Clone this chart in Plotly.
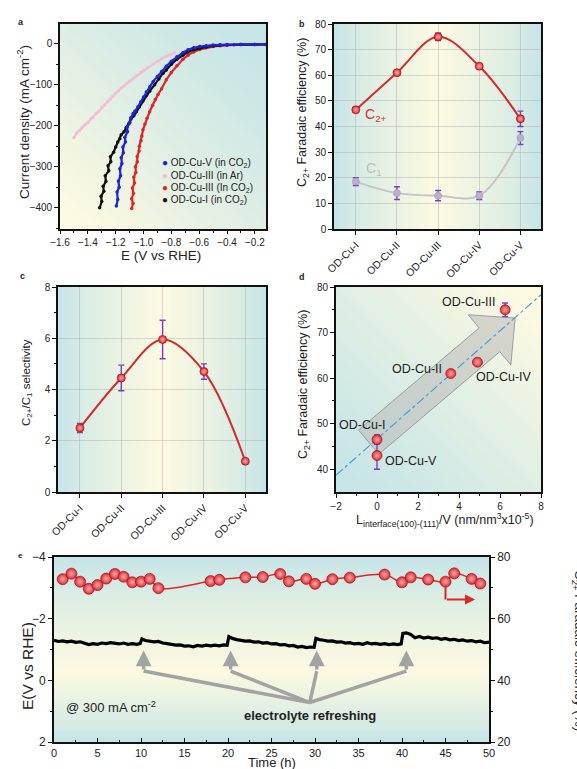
import base64, struct, zlib
import plotly.graph_objects as go

W, H = 577, 769
FONT = "Liberation Sans, Arial, sans-serif"

# ---------------- data ----------------
# panel a : LSV curves (E vs RHE, current density mA cm-2)
a_blue_E = [-1.195, -1.185, -1.19, -1.175, -1.18, -1.165, -1.17, -1.155, -1.16, -1.145, -1.148, -1.13, -1.134, -1.115,
            -1.118, -1.098, -1.09, -1.075, -1.062, -1.04, -1.02, -1.0, -0.98, -0.955, -0.93, -0.9, -0.87, -0.836, -0.8,
            -0.76, -0.717, -0.68, -0.64, -0.597, -0.55, -0.5, -0.45, -0.4, -0.3, -0.2, -0.12]
a_blue_j = [-396, -380, -362, -350, -335, -322, -305, -292, -278, -266, -252, -240, -228, -215, -204, -192, -180, -170,
            -165, -154, -142, -130, -118, -105, -92, -80, -68, -55, -43, -32, -22, -15, -10, -7, -5, -3.5, -2.8, -2.3,
            -2, -1.8, -1.8]
a_pink_E = [-1.50, -1.48, -1.46, -1.44, -1.42, -1.40, -1.38, -1.363, -1.34, -1.32, -1.30, -1.28, -1.26, -1.24, -1.22,
            -1.2, -1.18, -1.16, -1.14, -1.12, -1.1, -1.076, -1.05, -1.02, -1.0, -0.97, -0.932, -0.9, -0.87, -0.84,
            -0.813, -0.78]
a_pink_j = [-229, -218, -212, -204, -198, -192, -184, -180, -170, -164, -156, -150, -142, -136, -128, -121, -115, -108,
            -103, -97, -92, -86, -78, -70, -65, -58, -50, -43, -36, -31, -27, -22]
a_red_E = [-1.085, -1.075, -1.085, -1.072, -1.08, -1.065, -1.07, -1.055, -1.058, -1.045, -1.045, -1.032, -1.03, -1.018,
           -1.012, -1.004, -0.99, -0.975, -0.956, -0.935, -0.915, -0.896, -0.87, -0.836, -0.8, -0.76, -0.717, -0.68,
           -0.64, -0.597, -0.55, -0.5, -0.45, -0.4, -0.35, -0.3, -0.2, -0.12]
a_red_j = [-402, -390, -378, -365, -352, -340, -326, -314, -300, -288, -275, -262, -250, -237, -225, -210, -196, -182,
           -166, -150, -136, -124, -110, -88, -70, -54, -38, -28, -20, -14, -10, -7, -5, -3.5, -2.8, -2.3, -2, -2]
a_black_E = [-1.315, -1.3, -1.305, -1.285, -1.29, -1.27, -1.275, -1.25, -1.255, -1.235, -1.238, -1.215, -1.2, -1.185,
             -1.17, -1.16, -1.14, -1.125, -1.105, -1.09, -1.07, -1.052, -1.03, -1.005, -0.98, -0.956, -0.92, -0.89,
             -0.86, -0.836, -0.8, -0.76, -0.717, -0.68, -0.64, -0.597, -0.55, -0.5, -0.45, -0.4, -0.3, -0.2, -0.12]
a_black_j = [-400, -385, -372, -360, -348, -336, -322, -310, -298, -288, -276, -265, -252, -240, -232, -222, -215, -205,
             -195, -184, -176, -166, -154, -140, -126, -116, -100, -86, -72, -64, -50, -38, -28, -20, -15, -11, -8,
             -5.5, -4, -3, -2.3, -2, -2]

# panels b, c, d : catalysts
catalysts = ["OD-Cu-I", "OD-Cu-II", "OD-Cu-III", "OD-Cu-IV", "OD-Cu-V"]
fe_c2 = [46.5, 61.0, 75.0, 63.5, 43.0]
fe_c2_err = [1.0, 0.6, 1.5, 0.6, 3.0]
fe_c1 = [18.5, 14.0, 13.0, 13.0, 35.5]
fe_c1_err = [1.5, 2.5, 2.0, 1.5, 2.5]
selectivity = [2.5, 4.45, 5.95, 4.7, 1.2]
selectivity_err = [0.18, 0.5, 0.75, 0.3, 0.05]
interface_density = [0.0, 3.6, 6.25, 4.9, 0.0]
fit_x = [-2, 8]
fit_y = [38.7, 78.3]

# panel e : stability
time_fe = [1, 2, 3, 4, 5, 6, 7, 8, 9, 10, 11, 12, 18, 19, 22, 24, 26, 27, 29, 30, 32, 34, 38, 40, 41, 43, 45, 46,
           48, 49]
fe_time = [72.8, 74.6, 72.0, 69.7, 70.9, 73.0, 74.5, 73.6, 71.8, 72.0, 72.9, 69.9, 72.2, 72.6, 73.4, 73.5, 74.5,
           72.1, 72.9, 71.3, 72.8, 73.3, 74.3, 71.8, 73.4, 72.7, 72.0, 74.7, 72.9, 71.4]
time_v = [0, 0.5, 1, 1.5, 2, 2.5, 3, 3.5, 4, 4.5, 5, 5.5, 6, 6.5, 7, 7.5, 8, 8.5, 9, 9.5, 9.9, 10.1, 10.5, 11, 11.5,
          12, 12.5, 13, 13.5, 14, 14.5, 15, 15.5, 16, 16.5, 17, 17.5, 18, 18.5, 19, 19.5, 19.9, 20.1, 20.5, 21, 21.5,
          22, 22.5, 23, 23.5, 24, 24.5, 25, 25.5, 26, 26.5, 27, 27.5, 28, 28.5, 29, 29.5, 29.9, 30.1, 30.5, 31, 31.5,
          32, 32.5, 33, 33.5, 34, 34.5, 35, 35.5, 36, 36.5, 37, 37.5, 38, 38.5, 39, 39.5, 39.9, 40.1, 40.5, 41, 41.5,
          42, 42.5, 43, 43.5, 44, 44.5, 45, 45.5, 46, 46.5, 47, 47.5, 48, 48.5, 49, 49.5, 50]
potential = [-1.30, -1.26, -1.28, -1.25, -1.27, -1.23, -1.25, -1.20, -1.16, -1.19, -1.17, -1.21, -1.19, -1.22, -1.20,
             -1.18, -1.21, -1.17, -1.19, -1.17, -1.19, -1.34, -1.29, -1.27, -1.25, -1.26, -1.21, -1.19, -1.16, -1.14,
             -1.15, -1.11, -1.12, -1.09, -1.13, -1.11, -1.14, -1.12, -1.14, -1.12, -1.15, -1.14, -1.42, -1.36, -1.32,
             -1.29, -1.27, -1.28, -1.24, -1.25, -1.21, -1.22, -1.18, -1.19, -1.15, -1.16, -1.12, -1.13, -1.08, -1.10,
             -1.06, -1.08, -1.07, -1.36, -1.32, -1.30, -1.27, -1.28, -1.24, -1.25, -1.21, -1.22, -1.18, -1.20, -1.17,
             -1.22, -1.18, -1.20, -1.17, -1.19, -1.16, -1.18, -1.16, -1.18, -1.52, -1.54, -1.49, -1.38, -1.42, -1.37,
             -1.40, -1.36, -1.38, -1.33, -1.36, -1.31, -1.33, -1.29, -1.31, -1.27, -1.29, -1.25, -1.27, -1.22, -1.24]
refresh_times = [10.3, 20.3, 30.2, 40.5]

# ---------------- helpers ----------------
def pxx(xp):
    return xp / W

def pxy(yp):
    return 1 - yp / H

DOM = {
    'a': ([60, 266], [24, 229]),
    'b': ([334, 541], [24, 229]),
    'c': ([58, 266], [287, 492]),
    'd': ([336, 541], [287, 492]),
    'e': ([54, 489], [557, 742]),
}

def xdom(k):
    return [pxx(DOM[k][0][0]), pxx(DOM[k][0][1])]

def ydom(k):
    return [pxy(DOM[k][1][1]), pxy(DOM[k][1][0])]

TEAL = (198, 229, 231)
YEL = (253, 250, 226)

def mix(p):
    p = max(0.0, min(1.0, p))
    return tuple(int(TEAL[i] + (YEL[i] - TEAL[i]) * p) for i in range(3))

def png_uri(fn, w=48, h=48):
    raw = bytearray()
    for j in range(h):
        raw.append(0)
        for i in range(w):
            raw.extend(bytes(fn(i / (w - 1), j / (h - 1))))
    def chunk(tag, data):
        c = struct.pack('>I', len(data)) + tag + data
        return c + struct.pack('>I', zlib.crc32(tag + data) & 0xffffffff)
    png = (b'\x89PNG\r\n\x1a\n' + chunk(b'IHDR', struct.pack('>IIBBBBB', w, h, 8, 2, 0, 0, 0))
           + chunk(b'IDAT', zlib.compress(bytes(raw))) + chunk(b'IEND', b''))
    return 'data:image/png;base64,' + base64.b64encode(png).decode()

grad = {
    'a': lambda u, v: mix((((1 - u) + v) / 2) ** 1.3 * 1.1),
    'b': lambda u, v: mix((1 - abs(2 * u - 1)) ** 0.7),
    'c': lambda u, v: mix((1 - abs(2 * u - 1)) ** 0.7),
    'd': lambda u, v: mix(((u + (1 - v)) / 2) ** 1.2 * 1.1),
    'e': lambda u, v: mix((v / 0.62 if v < 0.62 else (1 - v) / 0.38) ** 0.8),
}

RED = '#e3242b'
PURPLE = '#7a3fc0'
sphere = dict(color=RED, gradient=dict(type='radial', color='#ffb3b3'), line=dict(color='#9e1018', width=0.7))

fig = go.Figure()

# ---------------- panel a ----------------
for E, j, col in [(a_pink_E, a_pink_j, '#f2bfd3'), (a_red_E, a_red_j, '#e02525'),
                  (a_black_E, a_black_j, '#111111'), (a_blue_E, a_blue_j, '#1f22d8')]:
    fig.add_trace(go.Scatter(x=E, y=j, mode='lines+markers', line=dict(color=col, width=2.2),
                             marker=dict(color=col, size=3.5), showlegend=False, xaxis='x', yaxis='y'))

# ---------------- panel b ----------------
cat_idx = list(range(len(catalysts)))
fig.add_trace(go.Scatter(x=cat_idx, y=fe_c1, mode='lines+markers', line=dict(color='#c4c4c4', width=2, shape='spline'),
                         marker=dict(color='#b9b2cc', size=7, line=dict(color='#9d93b8', width=0.6)),
                         error_y=dict(type='data', array=fe_c1_err, color=PURPLE, thickness=1.4, width=3),
                         showlegend=False, xaxis='x2', yaxis='y2'))
fig.add_trace(go.Scatter(x=cat_idx, y=fe_c2, mode='lines+markers', line=dict(color='#d42a2a', width=2, shape='spline'),
                         marker=dict(size=8, **sphere),
                         error_y=dict(type='data', array=fe_c2_err, color=PURPLE, thickness=1.4, width=3),
                         showlegend=False, xaxis='x2', yaxis='y2'))

# ---------------- panel c ----------------
fig.add_trace(go.Scatter(x=cat_idx, y=selectivity, mode='lines+markers',
                         line=dict(color='#d42a2a', width=2, shape='spline'), marker=dict(size=8, **sphere),
                         error_y=dict(type='data', array=selectivity_err, color=PURPLE, thickness=1.4, width=3),
                         showlegend=False, xaxis='x3', yaxis='y3'))

# ---------------- panel d ----------------
fig.add_trace(go.Scatter(x=fit_x, y=fit_y, mode='lines', line=dict(color='#3b9bd6', width=1.1, dash='dashdot'),
                         showlegend=False, xaxis='x4', yaxis='y4'))
fig.add_trace(go.Scatter(x=interface_density, y=fe_c2, mode='markers', marker=dict(size=10, **sphere),
                         error_y=dict(type='data', array=fe_c2_err, color=PURPLE, thickness=1.4, width=3),
                         showlegend=False, xaxis='x4', yaxis='y4'))

# ---------------- panel e ----------------
fig.add_trace(go.Scatter(x=time_v, y=potential, mode='lines', line=dict(color='#000000', width=3.2),
                         showlegend=False, xaxis='x5', yaxis='y5'))
fig.add_trace(go.Scatter(x=time_fe, y=fe_time, mode='lines+markers', line=dict(color='#e02525', width=1.5, shape='spline'),
                         marker=dict(size=11, **sphere), showlegend=False, xaxis='x5', yaxis='y6'))

# ---------------- axes ----------------
def axis(**kw):
    d = dict(showline=True, linecolor='#111', linewidth=1.6, mirror=True, ticks='outside', ticklen=4,
             tickwidth=1.2, tickcolor='#111', showgrid=False, zeroline=False, automargin=False,
             tickfont=dict(size=10, color='#222', family=FONT))
    d.update(kw)
    return d

GRID = dict(showgrid=True, gridcolor='rgba(170,170,170,0.45)', gridwidth=1)
cat_axis = dict(tickmode='array', tickvals=cat_idx, ticktext=catalysts, tickangle=-45, range=[-0.53, 4.5],
                tickfont=dict(size=10.5, color='#222', family=FONT))

layout = dict(
    width=W, height=H, margin=dict(l=0, r=0, t=0, b=0), paper_bgcolor='white', plot_bgcolor='rgba(0,0,0,0)',
    font=dict(family=FONT, color='#222'),
    xaxis=axis(domain=xdom('a'), anchor='y', range=[-1.6, -0.12], dtick=0.2, tick0=-1.6, tickformat='.1f',
               ticklen=3, minor=dict(ticks='outside', ticklen=2, dtick=0.1, tickcolor='#111')),
    yaxis=axis(domain=ydom('a'), anchor='x', range=[-452, 48], dtick=100,
               minor=dict(ticks='outside', ticklen=2.5, dtick=50, tickcolor='#111')),
    xaxis2=axis(domain=xdom('b'), anchor='y2', **GRID, **cat_axis),
    yaxis2=axis(domain=ydom('b'), anchor='x2', range=[0, 80], dtick=10, **GRID),
    xaxis3=axis(domain=xdom('c'), anchor='y3', **GRID, **cat_axis),
    yaxis3=axis(domain=ydom('c'), anchor='x3', range=[0, 8], dtick=2, **GRID,
                minor=dict(ticks='outside', ticklen=2.5, dtick=1, tickcolor='#111')),
    xaxis4=axis(domain=xdom('d'), anchor='y4', range=[-2, 8], dtick=2,
                minor=dict(ticks='outside', ticklen=2.5, dtick=1, tickcolor='#111')),
    yaxis4=axis(domain=ydom('d'), anchor='x4', range=[35, 80], tickvals=[40, 50, 60, 70, 80],
                minor=dict(ticks='outside', ticklen=2.5, tickvals=[45, 55, 65, 75], tickcolor='#111')),
    xaxis5=axis(domain=xdom('e'), anchor='y5', range=[0, 50], dtick=5, ticks='inside', ticklen=4,
                tickfont=dict(size=11, color='#222', family=FONT),
                minor=dict(ticks='inside', ticklen=2.5, dtick=2.5, tickcolor='#111')),
    yaxis5=axis(domain=ydom('e'), anchor='x5', range=[2, -4], dtick=2, mirror=False,
                tickfont=dict(size=12, color='#222', family=FONT),
                minor=dict(ticks='outside', ticklen=2.5, dtick=1, tickcolor='#111')),
    yaxis6=axis(domain=ydom('e'), anchor='x5', overlaying='y5', side='right', range=[20, 80], dtick=20,
                mirror=False, tickfont=dict(size=12, color='#222', family=FONT),
                minor=dict(ticks='outside', ticklen=2.5, dtick=10, tickcolor='#111')),
)
fig.update_layout(**layout)

# ---------------- backgrounds ----------------
images = []
for k in 'abcde':
    (x0, x1), (y0, y1) = DOM[k]
    images.append(dict(source=png_uri(grad[k]), xref='paper', yref='paper', x=pxx(x0), y=pxy(y0),
                       sizex=pxx(x1) - pxx(x0), sizey=(y1 - y0) / H, xanchor='left', yanchor='top',
                       sizing='stretch', layer='below'))
fig.update_layout(images=images)

# ---------------- annotations ----------------
ann = []

def ptext(text, xp, yp, size, angle=0, bold=False, color='#222', xanchor='center', yanchor='middle'):
    if bold:
        text = '<b>' + text + '</b>'
    ann.append(dict(text=text, x=pxx(xp), y=pxy(yp), xref='paper', yref='paper', showarrow=False,
                    textangle=angle, xanchor=xanchor, yanchor=yanchor,
                    font=dict(size=size, color=color, family=FONT)))

# panel letters
ptext('a', 21, 22, 9, bold=True)
ptext('b', 302, 24, 9, bold=True)
ptext('c', 22, 276, 9, bold=True)
ptext('d', 302, 277, 9, bold=True)
ptext('e', 20, 555, 8, bold=True)

# axis titles
ptext('Current density (mA cm<sup>-2</sup>)', 23, 122, 13.5, angle=-90)
ptext('E (V vs RHE)', 161, 255, 13.5)
ptext('C<sub>2+</sub> Faradaic efficiency (%)', 303, 113, 12.5, angle=-90)
ptext('C<sub>2+</sub>/C<sub>1</sub> selectivity', 27, 383, 11.5, angle=-90)
ptext('C<sub>2+</sub> Faradaic efficiency (%)', 304, 385, 12.5, angle=-90)
ptext('L<sub>interface(100)-(111)</sub>/V (nm/nm<sup>3</sup>x10<sup>-5</sup>)', 445, 520, 12.5)
ptext('E(V vs RHE)', 27, 666, 15.5, angle=-90)
ptext('Time (h)', 272, 762, 13)
ptext('C<sub>2+</sub> Faradaic efficiency (%)', 579, 650, 13.5, angle=90)

# panel a legend
legend_rows = [("#1f22d8", "OD-Cu-V (in CO<sub>2</sub>)"), ("#f2bfd3", "OD-Cu-III (in Ar)"),
               ("#e02525", "OD-Cu-III (In CO<sub>2</sub>)"), ("#111111", "OD-Cu-I (in CO<sub>2</sub>)")]
for i, (col, lab) in enumerate(legend_rows):
    ptext("<span style='color:%s'>●</span> %s" % (col, lab), 160, 163 + 12.3 * i, 10, xanchor='left')

# panel b labels
ann.append(dict(text='C<sub>2+</sub>', x=0.17, y=44.5, xref='x2', yref='y2', showarrow=False, xanchor='left',
                font=dict(size=14, color='#d03030', family=FONT)))
ann.append(dict(text='C<sub>1</sub>', x=0.2, y=23.5, xref='x2', yref='y2', showarrow=False, xanchor='left',
                font=dict(size=14, color='#bdbdbd', family=FONT)))

# panel d labels
d_label_pos = [(-0.7, 49.6, 'center'), (1.95, 62.0, 'center'), (4.45, 76.6, 'center'), (4.75, 60.2, 'left'),
               (0.3, 41.7, 'left')]
for name, (lx, ly, anc) in zip(catalysts, d_label_pos):
    ann.append(dict(text=name, x=lx, y=ly, xref='x4', yref='y4', showarrow=False, xanchor=anc,
                    font=dict(size=12.5, color='#222', family=FONT)))

# panel e texts and arrows
ann.append(dict(text='@ 300 mA cm<sup>-2</sup>', x=1.1, y=0.85, xref='x5', yref='y5', showarrow=False,
                xanchor='left', font=dict(size=13, color='#222', family=FONT)))
ann.append(dict(text='<b>electrolyte refreshing</b>', x=29.4, y=1.15, xref='x5', yref='y5', showarrow=False,
                font=dict(size=13, color='#222', family=FONT)))
for t in refresh_times:
    ann.append(dict(text='', x=t, y=-0.97, ax=t, ay=-0.3, xref='x5', yref='y5', axref='x5', ayref='y5',
                    showarrow=True, arrowhead=2, arrowsize=0.9, arrowwidth=3.5, arrowcolor='#a3a3a3', standoff=0))
ann.append(dict(text='', x=48.4, y=66.2, ax=45.0, ay=66.2, xref='x5', yref='y6', axref='x5', ayref='y6',
                showarrow=True, arrowhead=2, arrowsize=1, arrowwidth=2, arrowcolor='#e02525', standoff=0))
fig.update_layout(annotations=ann)

shapes = []
for t in refresh_times:
    shapes.append(dict(type='line', x0=t, y0=-0.3, x1=29.4, y1=0.72, xref='x5', yref='y5',
                       line=dict(color='#a3a3a3', width=3.5)))
shapes.append(dict(type='line', x0=45.0, y0=70.6, x1=45.0, y1=66.2, xref='x5', yref='y6',
                   line=dict(color='#e02525', width=2)))
# big arrow of panel d
arrow_pts = [(-0.9, 48.6), (4.98, 71.0), (4.45, 73.9), (6.74, 73.2), (6.53, 62.9), (5.99, 65.8), (0.09, 43.3)]
path = 'M ' + ' L '.join('%g,%g' % p for p in arrow_pts) + ' Z'
shapes.append(dict(type='path', path=path, xref='x4', yref='y4', layer='below',
                   fillcolor='rgba(185,185,185,0.55)', line=dict(color='rgba(140,140,140,0.8)', width=1)))
fig.update_layout(shapes=shapes)

fig.write_html("out.html", config={'displayModeBar': False},
               post_script="document.body.style.margin='0';document.body.style.overflow='hidden';")
